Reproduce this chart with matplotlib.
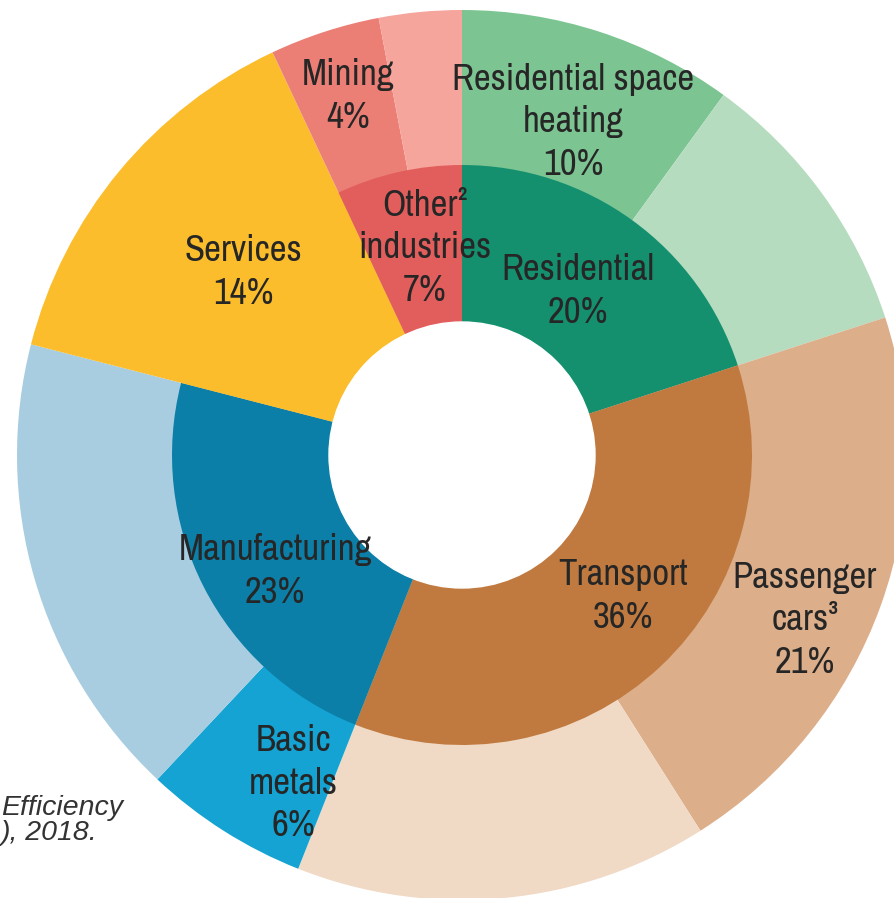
import matplotlib
matplotlib.use("Agg")
import matplotlib.pyplot as plt
from matplotlib import font_manager
from matplotlib.patches import Circle

# inner ring: sectors
inner_labels = ["Residential", "Transport", "Manufacturing", "Services", "Other\u00b2\nindustries"]
inner_values = [20, 36, 23, 14, 7]
inner_colors = ["#15906f", "#c07a40", "#0b7fa8", "#fbbd2c", "#e15e5c"]

# outer ring: sub-sectors (blank ones are the rest of the sector)
outer_labels = ["Residential space\nheating", "", "Passenger\ncars\u00b3", "", "Basic\nmetals", "", "Services", "Mining", ""]
outer_values = [10, 10, 21, 15, 6, 17, 14, 4, 3]
outer_colors = ["#7cc592", "#b6dcbf", "#ddae8a", "#f0dac6", "#14a3d2", "#a8cde0", "#fbbd2c", "#ec7f75", "#f5a59b"]

W, H = 894, 898
CX, CY, R = 462, 455, 445  # centre / outer radius, pixels
R_MID, R_HOLE = 290, 133

# pick a narrow sans if one is installed
installed = {f.name for f in font_manager.fontManager.ttflist}
narrow = "DejaVu Sans"
for name in ["Liberation Sans Narrow", "Arial Narrow", "Archivo Narrow", "Roboto Condensed",
             "PT Sans Narrow", "Pragati Narrow", "Fira Sans Condensed", "IBM Plex Sans Condensed",
             "Asap Condensed", "Encode Sans Condensed", "Open Sans Condensed"]:
    if name in installed:
        narrow = name
        break

fig = plt.figure(figsize=(W / 100, H / 100), dpi=100)
ax = fig.add_axes([0, 0, 1, 1])

# full outer pie, inner ring painted over it, then the hole
ax.pie(outer_values, colors=outer_colors, radius=1.0, startangle=90, counterclock=False,
       wedgeprops=dict(linewidth=0))
ax.pie(inner_values, colors=inner_colors, radius=R_MID / R, startangle=90, counterclock=False,
       wedgeprops=dict(linewidth=0))
ax.add_patch(Circle((0, 0), R_HOLE / R, color="white", zorder=5))

ax.set_aspect("auto")
ax.set_xlim(-CX / R, (W - CX) / R)
ax.set_ylim(-(H - CY) / R, CY / R)
ax.axis("off")


def px(x, y):
    return (x - CX) / R, (CY - y) / R


fam = [narrow, "DejaVu Sans"]
tc = "#262626"
fs = 26.5

labels = [
    ("Residential space\nheating\n10%", 573, 122),
    ("Mining\n4%", 348, 96),
    ("Other\u00b2\nindustries\n7%", 425, 248),
    ("Residential\n20%", 578, 291),
    ("Services\n14%", 243, 272),
    ("Manufacturing\n23%", 275, 571),
    ("Transport\n36%", 623, 596),
    ("Passenger\ncars\u00b3\n21%", 805, 620),
    ("Basic\nmetals\n6%", 293, 783),
]
for txt, x, y in labels:
    ax.text(*px(x, y), txt, ha="center", va="center", fontsize=fs, family=fam,
            color=tc, linespacing=1.36, zorder=6)

# cropped source note, bottom left
note_fam = ["Liberation Sans", "DejaVu Sans"]
ax.text(*px(1, 808), "Efficiency", ha="left", va="center", fontsize=20.5,
        family=note_fam, style="italic", color="#333333")
ax.text(*px(1, 833), "), 2018.", ha="left", va="center", fontsize=20.5,
        family=note_fam, style="italic", color="#333333")

fig.savefig("out.png", dpi=100)
